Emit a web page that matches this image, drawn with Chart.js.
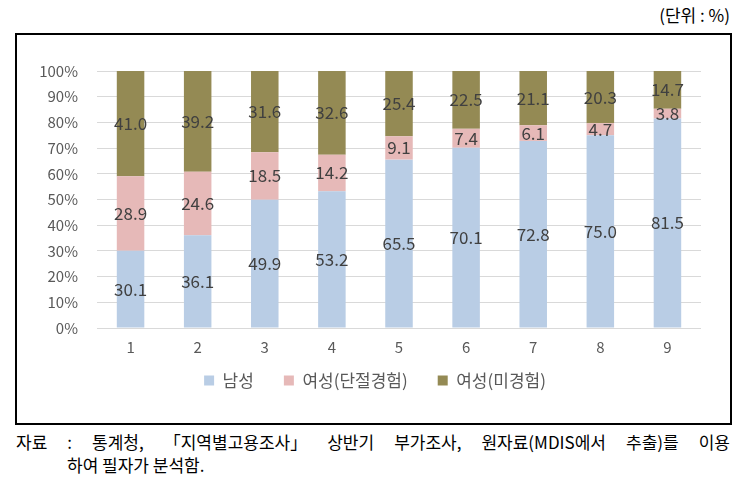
<!DOCTYPE html>
<html>
<head>
<meta charset="utf-8">
<script src="https://cdn.jsdelivr.net/npm/chart.js@4"></script>
<style>
    body { margin: 0; background: #fff; font-family: 'Noto Sans CJK KR', sans-serif; }
    #page { position: relative; width: 746px; height: 489px; }
    #unit { position: absolute; right: 16px; top: 2px; font-size: 17px; color: #000; }
    #box { position: absolute; left: 15px; top: 33px; width: 713px; height: 388px; border: 2px solid #000; }
    #chart-canvas { display: block; }
    #src1 { position: absolute; left: 16px; top: 429px; font-size: 17px; color: #000; white-space: nowrap; }
    #src2 { position: absolute; left: 67px; top: 452px; font-size: 17px; color: #000; }
</style>
</head>
<body>
<div id="page">
    <div id="unit">(단위 : %)</div>
    <div id="box"><canvas id="chart-canvas" width="713" height="388"></canvas></div>
    <div id="src1">자료 : 통계청, 「지역별고용조사」 상반기 부가조사, 원자료(MDIS에서 추출)를 이용</div>
    <div id="src2">하여 필자가 분석함.</div>
</div>
<script>
const categorias = ['1', '2', '3', '4', '5', '6', '7', '8', '9'];
const nomesSeries = ['남성', '여성(단절경험)', '여성(미경험)'];
const homens = [30.1, 36.1, 49.9, 53.2, 65.5, 70.1, 72.8, 75.0, 81.5];
const mulheresDescontinuidade = [28.9, 24.6, 18.5, 14.2, 9.1, 7.4, 6.1, 4.7, 3.8];
const mulheresSemExperiencia = [41.0, 39.2, 31.6, 32.6, 25.4, 22.5, 21.1, 20.3, 14.7];
const cores = ['#B9CDE5', '#E6B9B8', '#948A54'];

const series = [homens, mulheresDescontinuidade, mulheresSemExperiencia];
// 100% stacked: each column scaled to its own total
const totais = categorias.map((_, i) => series.reduce((s, arr) => s + arr[i], 0));

const fonte = "'Noto Sans CJK KR', sans-serif";

// spread the first source line only at the spaces
const src1 = document.querySelector('#src1');
const natural = src1.getBoundingClientRect().width;
const espacos = (src1.textContent.match(/ /g) || []).length;
src1.style.wordSpacing = ((714 - natural) / espacos) + 'px';

const rotulosValores = {
    id: 'rotulosValores',
    afterDatasetsDraw(chart) {
        const ctx = chart.ctx;
        ctx.save();
        ctx.font = '17px ' + fonte;
        ctx.fillStyle = '#404040';
        ctx.textAlign = 'center';
        ctx.textBaseline = 'middle';
        chart.data.datasets.forEach((ds, d) => {
            const meta = chart.getDatasetMeta(d);
            meta.data.forEach((bar, i) => {
                const y = (bar.y + bar.base) / 2;
                ctx.fillText(ds.rawValues[i].toFixed(1), bar.x, y);
            });
        });
        ctx.restore();
    }
};

// legend sits a bit right of the canvas centre and closer to the axis in the original
const deslocaLegenda = {
    id: 'deslocaLegenda',
    afterLayout(chart) {
        chart.legend.left += 16;
        chart.legend.right += 16;
        chart.legend.top -= 16;
        chart.legend.bottom -= 16;
    }
};

const data = {
    labels: categorias,
    datasets: series.map((arr, d) => ({
        label: nomesSeries[d],
        data: arr.map((v, i) => v / totais[i] * 100),
        rawValues: arr,
        backgroundColor: cores[d],
        categoryPercentage: 1,
        barPercentage: 0.41
    }))
};

const config = {
    type: 'bar',
    data,
    options: {
        responsive: false,
        animation: false,
        layout: {
            padding: { left: 0, right: 29, top: 36, bottom: 8 }
        },
        plugins: {
            legend: {
                position: 'bottom',
                labels: {
                    boxWidth: 10,
                    boxHeight: 10,
                    padding: 30,
                    color: '#595959',
                    font: { family: fonte, size: 17 }
                }
            },
            tooltip: { enabled: false }
        },
        scales: {
            x: {
                stacked: true,
                grid: { display: false, drawTicks: false },
                border: { display: false },
                ticks: {
                    color: '#595959',
                    padding: 10,
                    font: { family: fonte, size: 15 }
                },
                afterFit(s) { s.height = 30; }
            },
            y: {
                stacked: true,
                min: 0,
                max: 100,
                grid: { color: '#D9D9D9', lineWidth: 1, drawTicks: false },
                border: { display: false },
                ticks: {
                    stepSize: 10,
                    color: '#595959',
                    padding: 19,
                    font: { family: fonte, size: 15 },
                    callback: v => v + '%'
                },
                afterFit(s) { s.width = 80; }
            }
        }
    },
    plugins: [rotulosValores, deslocaLegenda]
};

const ctx = document.querySelector('#chart-canvas').getContext('2d');
new Chart(ctx, config);
</script>
</body>
</html>
